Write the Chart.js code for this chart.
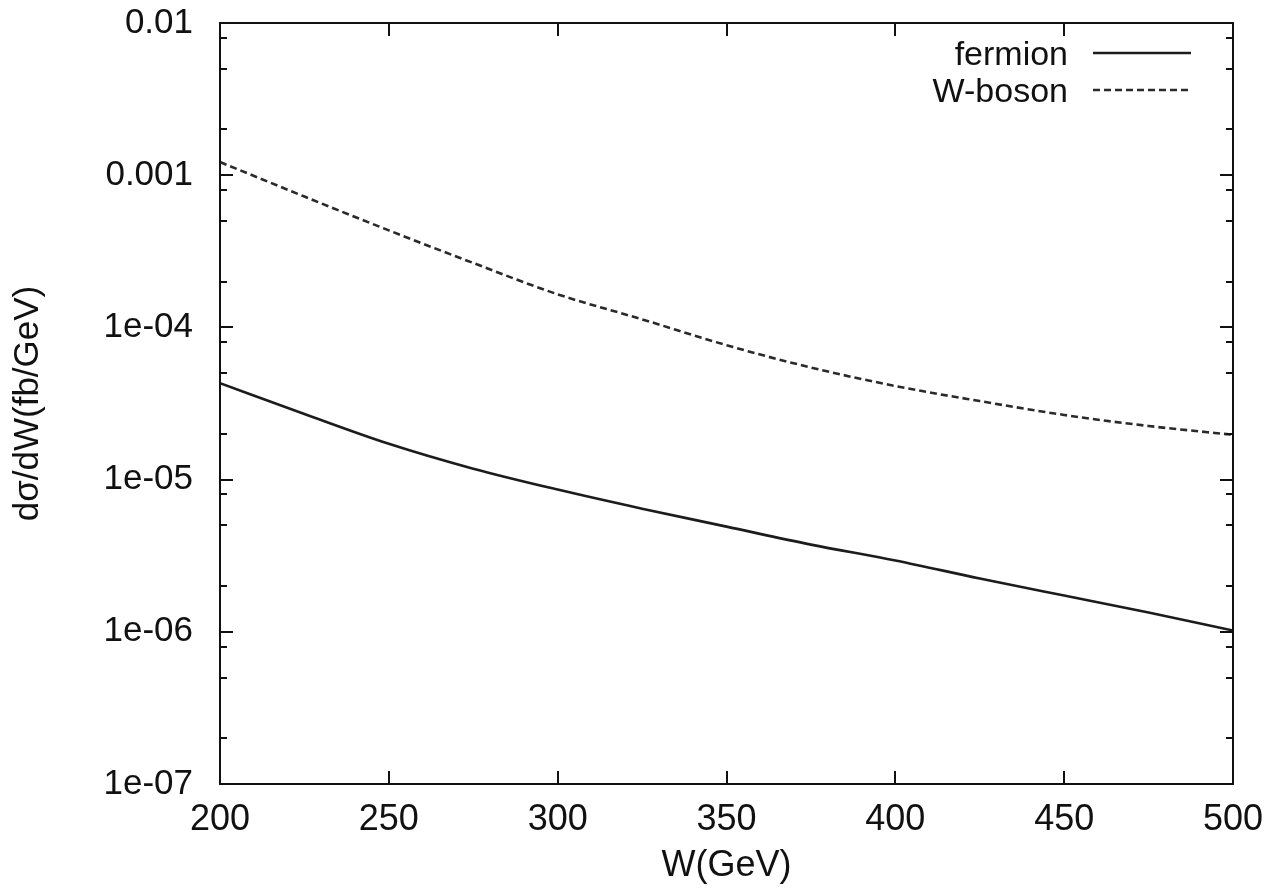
<!DOCTYPE html>
<html>
<head>
<meta charset="utf-8">
<script src="https://cdn.jsdelivr.net/npm/chart.js@4.4.1/dist/chart.umd.min.js"></script>
<style>
  html, body { margin: 0; padding: 0; background: #ffffff; }
  #wrap { width: 1274px; height: 896px; }
</style>
</head>
<body>
<div id="wrap"><canvas id="c" width="1274" height="896"></canvas></div>
<script>
// ---- data ----
const energies = [200, 225, 250, 275, 300, 325, 350, 375, 400, 425, 450, 475, 500];
const fermionValues = [4.3e-5, 2.70e-5, 1.72e-5, 1.18e-5, 8.6e-6, 6.44e-6, 4.91e-6, 3.74e-6, 2.94e-6, 2.24e-6, 1.73e-6, 1.34e-6, 1.02e-6];
const wbosonValues = [1.22e-3, 7.24e-4, 4.34e-4, 2.65e-4, 1.65e-4, 1.13e-4, 7.64e-5, 5.45e-5, 4.12e-5, 3.28e-5, 2.66e-5, 2.25e-5, 1.97e-5];
const seriesLabels = ['fermion', 'W-boson'];
const xTickValues = [200, 250, 300, 350, 400, 450, 500];
const yTickValues = [1e-7, 1e-6, 1e-5, 1e-4, 1e-3, 1e-2];
const yTickLabels = ['1e-07', '1e-06', '1e-05', '1e-04', '0.001', '0.01'];
const yMinorMultipliers = [2, 5, 8];
const xTitle = 'W(GeV)';
const yTitle = 'dσ/dW(fb/GeV)';

const FONT = "'Liberation Sans', Arial, Helvetica, sans-serif";
const INK = '#111111';

function pts(vals) { return energies.map((e, i) => ({ x: e, y: vals[i] })); }

const frameTicks = {
  id: 'frameTicks',
  afterDraw(chart) {
    const ctx = chart.ctx;
    const a = chart.chartArea;
    const xs = chart.scales.x, ys = chart.scales.y;
    ctx.save();
    ctx.strokeStyle = INK;
    ctx.lineWidth = 2;
    ctx.lineCap = 'butt';
    ctx.beginPath();
    xTickValues.forEach(v => {
      const px = Math.round(xs.getPixelForValue(v));
      if (px <= a.left + 1 || px >= a.right - 1) return;
      ctx.moveTo(px, a.bottom); ctx.lineTo(px, a.bottom - 13);
      ctx.moveTo(px, a.top); ctx.lineTo(px, a.top + 13);
    });
    yTickValues.forEach(v => {
      const py = Math.round(ys.getPixelForValue(v));
      if (py <= a.top + 1 || py >= a.bottom - 1) return;
      ctx.moveTo(a.left, py); ctx.lineTo(a.left + 13, py);
      ctx.moveTo(a.right, py); ctx.lineTo(a.right - 13, py);
    });
    for (let i = 0; i < yTickValues.length - 1; i++) {
      yMinorMultipliers.forEach(m => {
        const py = Math.round(ys.getPixelForValue(yTickValues[i] * m));
        ctx.moveTo(a.left, py); ctx.lineTo(a.left + 7, py);
        ctx.moveTo(a.right, py); ctx.lineTo(a.right - 7, py);
      });
    }
    ctx.stroke();
    ctx.strokeRect(a.left, a.top, a.right - a.left, a.bottom - a.top);

    ctx.font = '34px ' + FONT;
    ctx.fillStyle = INK;
    ctx.textAlign = 'right';
    ctx.textBaseline = 'alphabetic';
    const rows = [53, 90];
    chart.data.datasets.forEach((ds, i) => {
      const y = rows[i];
      ctx.fillText(ds.label, 1068, y + 12);
      ctx.beginPath();
      ctx.setLineDash(ds.borderDash || []);
      ctx.strokeStyle = ds.borderColor;
      ctx.lineWidth = ds.borderWidth;
      ctx.moveTo(1093, y); ctx.lineTo(1191, y);
      ctx.stroke();
      ctx.setLineDash([]);
    });
    ctx.restore();
  }
};

new Chart(document.getElementById('c'), {
  type: 'line',
  data: {
    datasets: [
      { label: seriesLabels[0], data: pts(fermionValues), borderColor: '#1c1c1c', borderWidth: 2.6,
        pointRadius: 0, cubicInterpolationMode: 'monotone', fill: false },
      { label: seriesLabels[1], data: pts(wbosonValues), borderColor: '#2a2a2a', borderWidth: 2.6,
        borderDash: [7, 4], pointRadius: 0, cubicInterpolationMode: 'monotone', fill: false }
    ]
  },
  options: {
    responsive: false,
    animation: false,
    devicePixelRatio: 1,
    layout: { padding: { left: 0, right: 41, top: 23, bottom: 0 } },
    plugins: { legend: { display: false }, tooltip: { enabled: false } },
    scales: {
      x: {
        type: 'linear', min: 200, max: 500,
        afterBuildTicks(s) { s.ticks = xTickValues.map(v => ({ value: v })); },
        afterFit(s) { s.height = 112; s.paddingLeft = 0; s.paddingRight = 0; },
        grid: { display: false, drawTicks: false },
        border: { display: false },
        ticks: { color: INK, font: { family: FONT, size: 36 }, padding: 14, maxRotation: 0, autoSkip: false },
        title: { display: true, text: xTitle, color: INK, font: { family: FONT, size: 36 }, padding: { top: 0, bottom: 8 } }
      },
      y: {
        type: 'logarithmic', min: 1e-7, max: 1e-2,
        afterBuildTicks(s) { s.ticks = yTickValues.map(v => ({ value: v })); },
        afterFit(s) { s.width = 220; s.paddingTop = 0; s.paddingBottom = 0; },
        grid: { display: false, drawTicks: false },
        border: { display: false },
        ticks: {
          color: INK, font: { family: FONT, size: 35 }, padding: 27, autoSkip: false,
          callback(v) { const i = yTickValues.findIndex(t => Math.abs(Math.log10(t) - Math.log10(v)) < 1e-6); return i >= 0 ? yTickLabels[i] : ''; }
        },
        title: { display: true, text: yTitle, color: INK, font: { family: FONT, size: 35 }, padding: { top: 7, bottom: 0 } }
      }
    }
  },
  plugins: [frameTicks]
});
</script>
</body>
</html>
